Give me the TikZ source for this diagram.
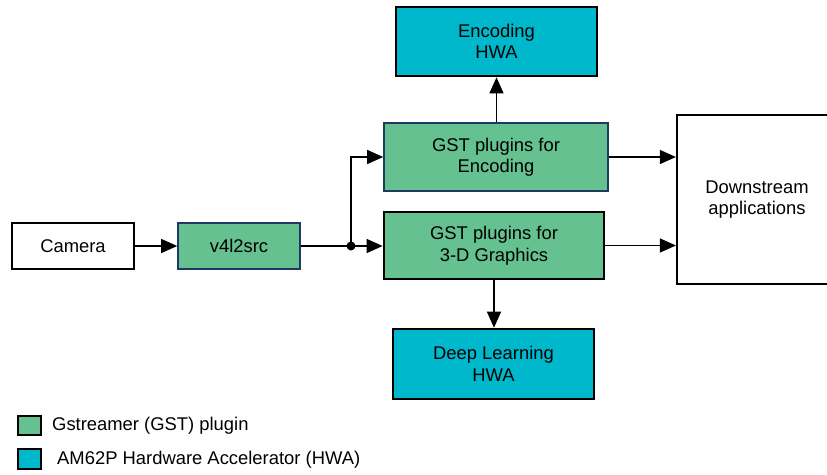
\documentclass[tikz,border=0pt]{standalone}
\usepackage{fontspec}
\setmainfont{Liberation Sans}
\usetikzlibrary{arrows.meta}
\definecolor{gstgreen}{RGB}{101,193,143}
\definecolor{hwacyan}{RGB}{0,184,204}
\definecolor{bluebord}{RGB}{31,56,100}
\tikzset{
  txt/.style={font=\fontsize{18.4}{21.5}\selectfont, align=center, inner sep=0pt},
  plainbox/.style={txt, draw=black, line width=2.2pt, fill=white},
  gstthin/.style={txt, draw=bluebord, line width=1.6pt, fill=gstgreen},
  gstthick/.style={txt, draw=black, line width=2.8pt, fill=gstgreen},
  hwabox/.style={txt, draw=black, line width=2.6pt, fill=hwacyan},
  conn/.style={line width=1.4pt, -{Triangle[length=16pt,width=14pt]}},
  wire/.style={line width=1.4pt},
}
\begin{document}
\begin{tikzpicture}[x=1pt,y=-1pt]
\useasboundingbox (0,0) rectangle (827,474);
\node[plainbox, minimum width=122pt, minimum height=46pt] (cam) at (73,246) {Camera};
\node[gstthin, minimum width=122pt, minimum height=46pt] (v4l) at (239,246) {v4l2src};
\node[gstthin, minimum width=224pt, minimum height=68pt] (enc) at (496,157) {GST plugins for\\Encoding};
\node[gstthick, minimum width=220pt, minimum height=67pt] (gfx) at (494,245.5) {GST plugins for\\3-D Graphics};
\node[hwabox, minimum width=201pt, minimum height=69pt] (enchwa) at (496.5,41.5) {Encoding\\HWA};
\node[hwabox, minimum width=201pt, minimum height=70pt] (dl) at (493.5,364) {Deep Learning\\HWA};
\node[plainbox, minimum width=160pt, minimum height=169pt] (down) at (757,199.5) {Downstream\\applications};
\coordinate (j) at (351,246);
\coordinate (jup) at (351,157);
\draw[conn] (cam.east) -- (v4l.west);
\draw[wire] (v4l.east) -- (j);
\fill (j) circle (4.5pt);
\draw[conn] (j) -- (gfx.west |- j);
\draw[conn] (j) -- (jup) -- (enc.west |- jup);
\draw[conn] (enc.north -| enchwa.south) -- (enchwa.south);
\draw[conn] (gfx.south) -- (dl.north -| gfx.south);
\draw[conn] (enc.east) -- (down.west |- enc.east);
\draw[conn] (gfx.east) -- (down.west |- gfx.east);
% legend
\node[draw=black, line width=2.2pt, fill=gstgreen, minimum width=23pt, minimum height=19pt, inner sep=0pt] (lg) at (29.5,425.5) {};
\node[draw=black, line width=2.2pt, fill=hwacyan, minimum width=23pt, minimum height=20pt, inner sep=0pt] (lc) at (29.5,459) {};
\node[txt, anchor=west] (lgt) at (52,425.5) {Gstreamer (GST) plugin};
\node[txt, anchor=west] (lct) at (57,460) {AM62P Hardware Accelerator (HWA)};
\end{tikzpicture}
\end{document}
